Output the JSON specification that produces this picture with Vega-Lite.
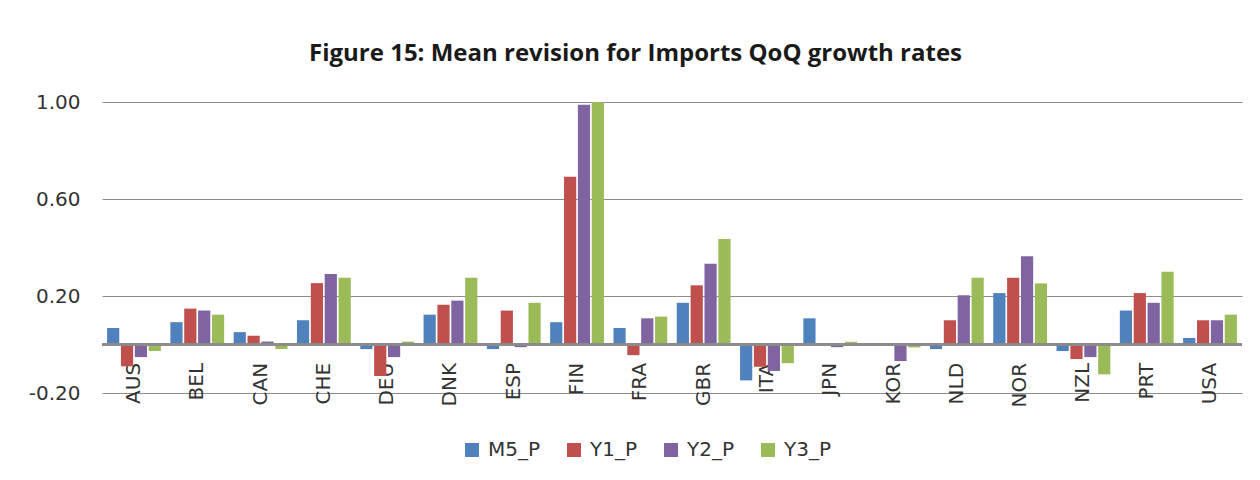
{
  "$schema": "https://vega.github.io/schema/vega-lite/v6.json",
  "width": 1140,
  "height": 291,
  "autosize": {"type": "none"},
  "padding": {"left": 102, "top": 102, "right": 18, "bottom": 87},
  "background": "white",
  "title": {
    "text": "Figure 15: Mean revision for Imports QoQ growth rates",
    "font": "Open Sans",
    "fontSize": 24,
    "fontWeight": "bold",
    "color": "#1a1a1a",
    "anchor": "middle",
    "frame": "bounds",
    "baseline": "alphabetic",
    "offset": 7
  },
  "data": {
    "values": [
      {"country": "AUS", "series": "M5_P", "value": 0.068},
      {"country": "AUS", "series": "Y1_P", "value": -0.090},
      {"country": "AUS", "series": "Y2_P", "value": -0.052},
      {"country": "AUS", "series": "Y3_P", "value": -0.027},
      {"country": "BEL", "series": "M5_P", "value": 0.092},
      {"country": "BEL", "series": "Y1_P", "value": 0.148},
      {"country": "BEL", "series": "Y2_P", "value": 0.140},
      {"country": "BEL", "series": "Y3_P", "value": 0.123},
      {"country": "CAN", "series": "M5_P", "value": 0.051},
      {"country": "CAN", "series": "Y1_P", "value": 0.036},
      {"country": "CAN", "series": "Y2_P", "value": 0.012},
      {"country": "CAN", "series": "Y3_P", "value": -0.019},
      {"country": "CHE", "series": "M5_P", "value": 0.100},
      {"country": "CHE", "series": "Y1_P", "value": 0.253},
      {"country": "CHE", "series": "Y2_P", "value": 0.291},
      {"country": "CHE", "series": "Y3_P", "value": 0.275},
      {"country": "DEU", "series": "M5_P", "value": -0.019},
      {"country": "DEU", "series": "Y1_P", "value": -0.130},
      {"country": "DEU", "series": "Y2_P", "value": -0.052},
      {"country": "DEU", "series": "Y3_P", "value": 0.012},
      {"country": "DNK", "series": "M5_P", "value": 0.123},
      {"country": "DNK", "series": "Y1_P", "value": 0.164},
      {"country": "DNK", "series": "Y2_P", "value": 0.181},
      {"country": "DNK", "series": "Y3_P", "value": 0.275},
      {"country": "ESP", "series": "M5_P", "value": -0.019},
      {"country": "ESP", "series": "Y1_P", "value": 0.140},
      {"country": "ESP", "series": "Y2_P", "value": -0.011},
      {"country": "ESP", "series": "Y3_P", "value": 0.172},
      {"country": "FIN", "series": "M5_P", "value": 0.092},
      {"country": "FIN", "series": "Y1_P", "value": 0.692},
      {"country": "FIN", "series": "Y2_P", "value": 0.989},
      {"country": "FIN", "series": "Y3_P", "value": 1.0},
      {"country": "FRA", "series": "M5_P", "value": 0.068},
      {"country": "FRA", "series": "Y1_P", "value": -0.044},
      {"country": "FRA", "series": "Y2_P", "value": 0.108},
      {"country": "FRA", "series": "Y3_P", "value": 0.115},
      {"country": "GBR", "series": "M5_P", "value": 0.172},
      {"country": "GBR", "series": "Y1_P", "value": 0.244},
      {"country": "GBR", "series": "Y2_P", "value": 0.333},
      {"country": "GBR", "series": "Y3_P", "value": 0.435},
      {"country": "ITA", "series": "M5_P", "value": -0.148},
      {"country": "ITA", "series": "Y1_P", "value": -0.092},
      {"country": "ITA", "series": "Y2_P", "value": -0.109},
      {"country": "ITA", "series": "Y3_P", "value": -0.077},
      {"country": "JPN", "series": "M5_P", "value": 0.108},
      {"country": "JPN", "series": "Y1_P", "value": 0.0},
      {"country": "JPN", "series": "Y2_P", "value": -0.011},
      {"country": "JPN", "series": "Y3_P", "value": 0.011},
      {"country": "KOR", "series": "M5_P", "value": 0.0},
      {"country": "KOR", "series": "Y1_P", "value": 0.0},
      {"country": "KOR", "series": "Y2_P", "value": -0.068},
      {"country": "KOR", "series": "Y3_P", "value": -0.012},
      {"country": "NLD", "series": "M5_P", "value": -0.019},
      {"country": "NLD", "series": "Y1_P", "value": 0.100},
      {"country": "NLD", "series": "Y2_P", "value": 0.203},
      {"country": "NLD", "series": "Y3_P", "value": 0.275},
      {"country": "NOR", "series": "M5_P", "value": 0.212},
      {"country": "NOR", "series": "Y1_P", "value": 0.275},
      {"country": "NOR", "series": "Y2_P", "value": 0.364},
      {"country": "NOR", "series": "Y3_P", "value": 0.252},
      {"country": "NZL", "series": "M5_P", "value": -0.027},
      {"country": "NZL", "series": "Y1_P", "value": -0.060},
      {"country": "NZL", "series": "Y2_P", "value": -0.052},
      {"country": "NZL", "series": "Y3_P", "value": -0.123},
      {"country": "PRT", "series": "M5_P", "value": 0.140},
      {"country": "PRT", "series": "Y1_P", "value": 0.212},
      {"country": "PRT", "series": "Y2_P", "value": 0.172},
      {"country": "PRT", "series": "Y3_P", "value": 0.300},
      {"country": "USA", "series": "M5_P", "value": 0.027},
      {"country": "USA", "series": "Y1_P", "value": 0.100},
      {"country": "USA", "series": "Y2_P", "value": 0.100},
      {"country": "USA", "series": "Y3_P", "value": 0.123}
    ]
  },
  "layer": [
    {
      "mark": {"type": "bar", "clip": true},
      "encoding": {
        "x": {
          "field": "country",
          "type": "nominal",
          "sort": null,
          "scale": {"paddingInner": 0.15, "paddingOuter": 0.08},
          "axis": {
            "title": null,
            "labelAngle": -90,
            "labelAlign": "right",
            "labelBaseline": "middle",
            "labelFont": "DejaVu Sans",
            "labelFontSize": 20,
            "labelColor": "#333333",
            "labelPadding": 18,
            "domain": false,
            "ticks": false,
            "grid": false,
            "offset": -48.6
          }
        },
        "xOffset": {
          "field": "series",
          "type": "nominal",
          "scale": {"paddingInner": 0.12}
        },
        "y": {
          "field": "value",
          "type": "quantitative",
          "scale": {"domain": [-0.2, 1.0], "nice": false, "zero": false},
          "axis": {
            "title": null,
            "values": [-0.2, 0.2, 0.6, 1.0],
            "format": ".2f",
            "labelExpr": "replace(datum.label, '\u2212', '-')",
            "labelFont": "DejaVu Sans",
            "labelFontSize": 20,
            "labelColor": "#333333",
            "labelPadding": 22,
            "domain": false,
            "ticks": false,
            "grid": true,
            "gridColor": "#8c8c8c",
            "gridWidth": 1.2
          }
        },
        "color": {
          "field": "series",
          "type": "nominal",
          "scale": {
            "domain": ["M5_P", "Y1_P", "Y2_P", "Y3_P"],
            "range": ["#4F81BD", "#C0504D", "#8064A2", "#9BBB59"]
          },
          "legend": {
            "title": null,
            "orient": "none",
            "legendX": 360,
            "legendY": 338,
            "direction": "horizontal",
            "symbolType": "square",
            "symbolSize": 196,
            "symbolStrokeWidth": 0,
            "labelFont": "DejaVu Sans",
            "labelFontSize": 20,
            "labelColor": "#333333",
            "columnPadding": 23,
            "labelOffset": 6
          }
        }
      }
    },
    {
      "mark": {"type": "rule", "color": "#8c8c8c", "strokeWidth": 1.5},
      "encoding": {"y": {"datum": 0}}
    }
  ],
  "config": {"view": {"stroke": null}}
}
